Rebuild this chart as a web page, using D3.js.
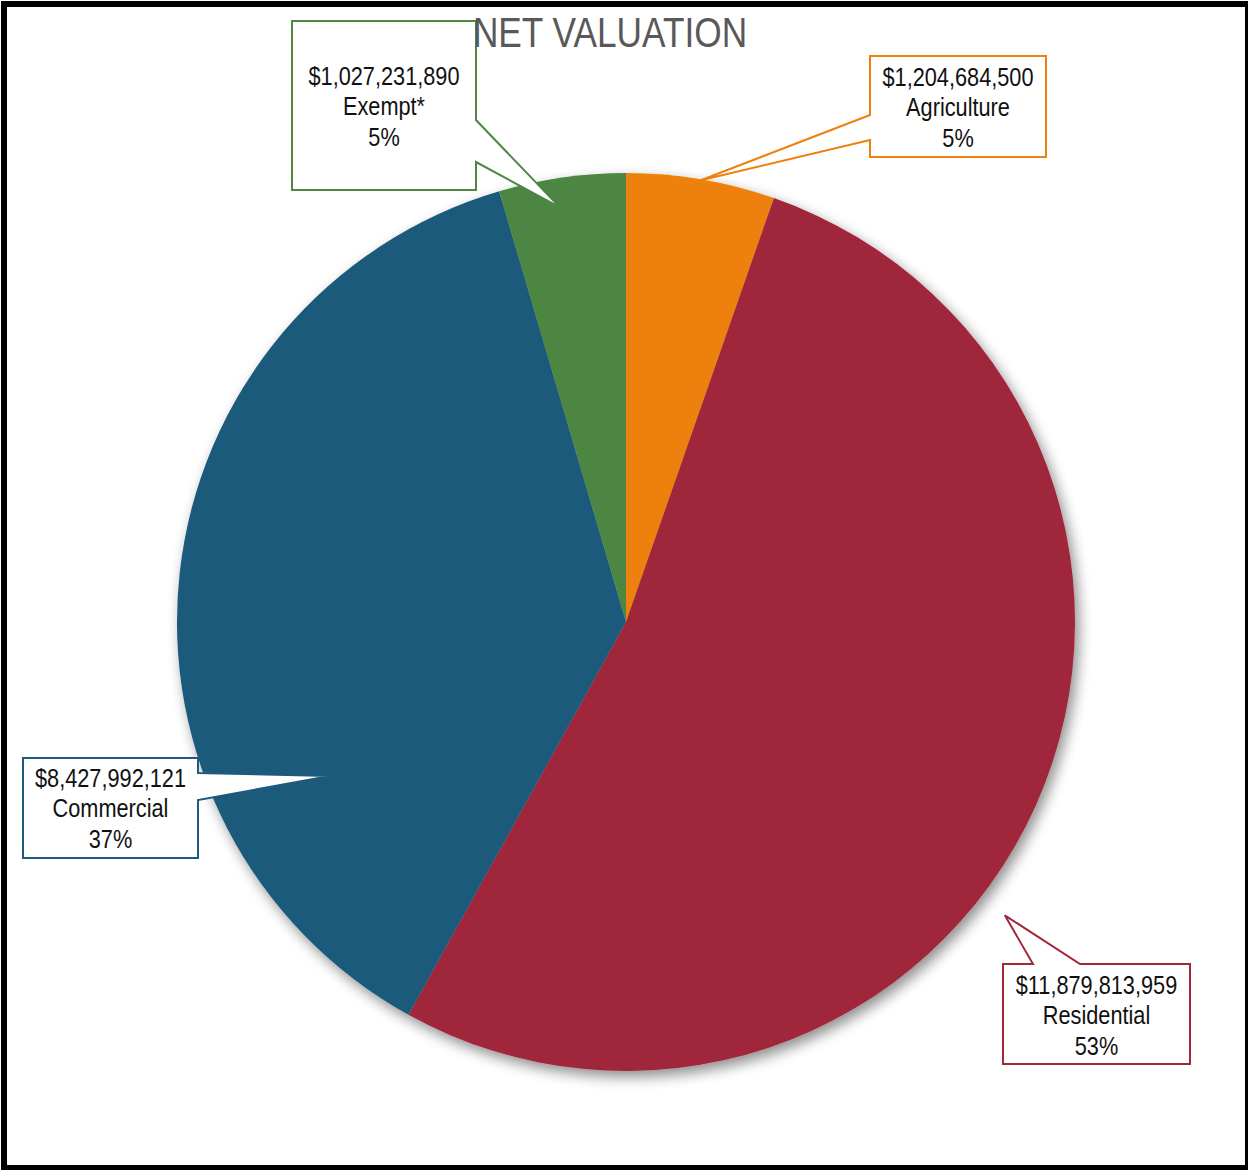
<!DOCTYPE html>
<html>
<head>
<meta charset="utf-8">
<script src="https://cdn.jsdelivr.net/npm/d3@7"></script>
<style>
  html, body { margin: 0; padding: 0; background: #fff; }
  svg { display: block; }
  text { font-family: "Liberation Sans", Arial, sans-serif; }
</style>
</head>
<body>
<svg id="chart" width="1248" height="1170"></svg>
<script>
// Net valuation by property class
const categories = ["Agriculture", "Residential", "Commercial", "Exempt*"];
const values = [1204684500, 11879813959, 8427992121, 1027231890];
const percentLabels = ["5%", "53%", "37%", "5%"];
const colors = ["#EE800B", "#A0283A", "#1E5A7C", "#4E8642"];

const W = 1248, H = 1170;
const cx = 626, cy = 622, R = 449;
const narrow = 0.82; // horizontal squeeze to get a condensed face

const svg = d3.select("#chart");

// Outer frame
svg.append("rect")
  .attr("x", 4).attr("y", 4).attr("width", W - 4).attr("height", H - 6)
  .attr("fill", "#fff").attr("stroke", "#000").attr("stroke-width", 6);

// Soft drop shadow behind the pie
const defs = svg.append("defs");
const f = defs.append("filter").attr("id", "pieShadow")
  .attr("x", "-10%").attr("y", "-10%").attr("width", "120%").attr("height", "120%");
f.append("feGaussianBlur").attr("in", "SourceAlpha").attr("stdDeviation", 7).attr("result", "b");
f.append("feOffset").attr("in", "b").attr("dx", 4).attr("dy", 6).attr("result", "o");
f.append("feComponentTransfer").attr("in", "o").attr("result", "s")
  .append("feFuncA").attr("type", "linear").attr("slope", 0.45);
const fm = f.append("feMerge");
fm.append("feMergeNode").attr("in", "s");
fm.append("feMergeNode").attr("in", "SourceGraphic");

const pie = d3.pie().sort(null).value(d => d)(values);
const arc = d3.arc().innerRadius(0).outerRadius(R);

const g = svg.append("g").attr("transform", `translate(${cx},${cy})`).attr("filter", "url(#pieShadow)");
g.selectAll("path").data(pie).join("path")
  .attr("d", arc)
  .attr("fill", (d, i) => colors[i]);

// Callout layout: box rectangle, side the pointer leaves from, where it attaches,
// and the pointer tip in polar form relative to the slice's mid angle.
const callouts = [
  { box: [870, 56, 176, 101], side: "left",  attach: [115, 140], dAngle: 0.0,   rFrac: 0.998, textY: 86 },
  { box: [1003, 964, 187, 100], side: "top", attach: [1033, 1080], dAngle: 0.238, rFrac: 1.067, textY: 994 },
  { box: [23, 758, 175, 100], side: "right", attach: [773, 800], dAngle: -0.589, rFrac: 0.744, textY: 787 },
  { box: [292, 21, 184, 169], side: "right", attach: [120, 162], dAngle: -0.015, rFrac: 0.935, textY: 85 }
];

const fmt = d3.format("$,");
const lineH = 30.5;

pie.forEach((d, i) => {
  const c = callouts[i];
  const mid = (d.startAngle + d.endAngle) / 2 + c.dAngle;
  const tr = R * c.rFrac;
  const tip = [cx + tr * Math.sin(mid), cy - tr * Math.cos(mid)];
  const [x, y, w, h] = c.box;
  let pts;
  if (c.side === "left") {
    pts = [[x, y], [x + w, y], [x + w, y + h], [x, y + h], [x, c.attach[1]], tip, [x, c.attach[0]]];
  } else if (c.side === "right") {
    pts = [[x, y], [x + w, y], [x + w, c.attach[0]], tip, [x + w, c.attach[1]], [x + w, y + h], [x, y + h]];
  } else {
    pts = [[x, y], [c.attach[0], y], tip, [c.attach[1], y], [x + w, y], [x + w, y + h], [x, y + h]];
  }
  svg.append("path")
    .attr("d", d3.line()(pts) + "Z")
    .attr("fill", "#fff")
    .attr("stroke", colors[i])
    .attr("stroke-width", 2)
    .attr("stroke-linejoin", "miter");

  const lines = [fmt(values[i]), categories[i], percentLabels[i]];
  const t = svg.append("g")
    .attr("transform", `translate(${x + w / 2},0) scale(${narrow},1)`)
    .append("text")
    .attr("text-anchor", "middle")
    .attr("font-size", 26.5)
    .attr("fill", "#111");
  lines.forEach((s, k) => {
    t.append("tspan").attr("x", 0).attr("y", c.textY + k * lineH).text(s);
  });
});

// Title
svg.append("g")
  .attr("transform", `translate(610,0) scale(${narrow},1)`)
  .append("text")
  .attr("x", 0).attr("y", 47)
  .attr("text-anchor", "middle")
  .attr("font-size", 43)
  .attr("fill", "#595959")
  .text("NET VALUATION");
</script>
</body>
</html>
